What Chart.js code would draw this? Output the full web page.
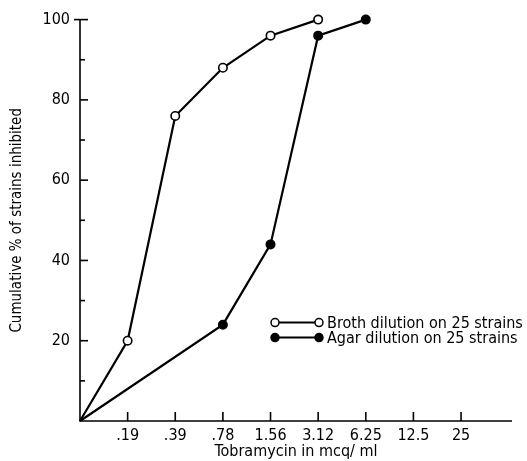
<!DOCTYPE html>
<html><head><meta charset="utf-8">
<script src="https://cdn.jsdelivr.net/npm/chart.js@4"></script>
<style>html,body{margin:0;padding:0;background:#fff}</style>
</head><body>
<canvas id="c" width="527" height="461"></canvas>
<script>
const xLabels = ['', '.19', '.39', '.78', '1.56', '3.12', '6.25', '12.5', '25'];
const brothX = [0, 1, 2, 3, 4, 5];
const brothY = [0, 20, 76, 88, 96, 100];
const agarX = [0, 3, 4, 5, 6];
const agarY = [0, 24, 44, 96, 100];
const yLabelValues = [20, 40, 60, 80, 100];
const seriesNames = ['Broth dilution on 25 strains', 'Agar dilution on 25 strains'];
const xTitle = 'Tobramycin in mcq/ ml';
const yTitle = 'Cumulative % of strains inhibited';

const FONT = '"Liberation Sans Narrow", "DejaVu Sans Condensed", "Liberation Sans", sans-serif';

function pts(xs, ys) { return xs.map((x, i) => ({ x: x, y: ys[i] })); }
const radiusFn = c => (c.raw && c.raw.x === 0 ? 0 : 4.2);

const axesPlugin = {
  id: 'axesPlugin',
  beforeDatasetsDraw(chart) {
    const ctx = chart.ctx, xs = chart.scales.x, ys = chart.scales.y;
    const x0 = xs.getPixelForValue(0), y0 = ys.getPixelForValue(0);
    ctx.save();
    ctx.strokeStyle = '#000'; ctx.lineWidth = 1.6; ctx.lineCap = 'butt';
    ctx.beginPath();
    ctx.moveTo(x0, ys.getPixelForValue(100)); ctx.lineTo(x0, y0);
    ctx.lineTo(xs.right, y0);
    ctx.stroke();
    for (let v = 10; v <= 100; v += 10) {
      const y = ys.getPixelForValue(v);
      const major = v % 20 === 0;
      ctx.beginPath();
      ctx.moveTo(v === 100 ? x0 - 6 : x0, y);
      ctx.lineTo(x0 + (major ? 8 : 5), y);
      ctx.stroke();
    }
    for (let i = 1; i < xLabels.length; i++) {
      const x = xs.getPixelForValue(i);
      ctx.beginPath(); ctx.moveTo(x, y0); ctx.lineTo(x, y0 - 9); ctx.stroke();
    }
    ctx.restore();
  },
  afterDraw(chart) {
    const ctx = chart.ctx;
    const lx = chart.chartArea.left + 195;
    const rows = [chart.chartArea.top + 303, chart.chartArea.top + 318];
    ctx.save();
    chart.data.datasets.forEach((ds, i) => {
      const y = rows[i];
      ctx.strokeStyle = '#000'; ctx.lineWidth = 2;
      ctx.beginPath(); ctx.moveTo(lx, y); ctx.lineTo(lx + 44, y); ctx.stroke();
      [lx, lx + 44].forEach(cx => {
        ctx.beginPath(); ctx.arc(cx, y, 4, 0, Math.PI * 2);
        ctx.fillStyle = ds.pointBackgroundColor; ctx.fill();
        ctx.lineWidth = 1.5; ctx.stroke();
      });
      ctx.fillStyle = '#000';
      ctx.font = '16px ' + FONT;
      ctx.textBaseline = 'middle';
      ctx.fillText(ds.label, lx + 52, y + 1);
    });
    ctx.restore();
  }
};

new Chart(document.getElementById('c'), {
  type: 'scatter',
  data: {
    datasets: [
      { label: seriesNames[0], data: pts(brothX, brothY), showLine: true, clip: false,
        borderColor: '#000', borderWidth: 2.2, pointRadius: radiusFn, pointBorderWidth: 1.6,
        pointBackgroundColor: '#fff', pointBorderColor: '#000' },
      { label: seriesNames[1], data: pts(agarX, agarY), showLine: true, clip: false,
        borderColor: '#000', borderWidth: 2.2, pointRadius: radiusFn, pointBorderWidth: 1.6,
        pointBackgroundColor: '#000', pointBorderColor: '#000' }
    ]
  },
  options: {
    responsive: false, animation: false, devicePixelRatio: 1,
    layout: { padding: { top: 18, right: 15, left: 0, bottom: 0 } },
    plugins: { legend: { display: false }, tooltip: { enabled: false } },
    scales: {
      x: {
        type: 'linear', min: 0, max: 9.07,
        afterFit(s) { s.height = 40; },
        grid: { display: false, drawTicks: false }, border: { display: false },
        afterBuildTicks(s) { s.ticks = xLabels.map((l, i) => ({ value: i })); },
        ticks: { padding: 5, color: '#000', font: { family: FONT, size: 16 }, autoSkip: false, maxRotation: 0,
          callback: v => xLabels[v] || '' },
        title: { display: true, text: xTitle, color: '#000', font: { family: FONT, size: 16 }, padding: { top: 0, bottom: 0 } }
      },
      y: {
        type: 'linear', min: 0, max: 100,
        afterFit(s) { s.width = 80; },
        grid: { display: false, drawTicks: false }, border: { display: false },
        afterBuildTicks(s) { s.ticks = yLabelValues.map(v => ({ value: v })); },
        ticks: { padding: 10, color: '#000', font: { family: FONT, size: 16 } },
        title: { display: true, text: yTitle, color: '#000', font: { family: FONT, size: 15 }, padding: { top: 8, bottom: 0 } }
      }
    }
  },
  plugins: [axesPlugin]
});
</script>
</body></html>
